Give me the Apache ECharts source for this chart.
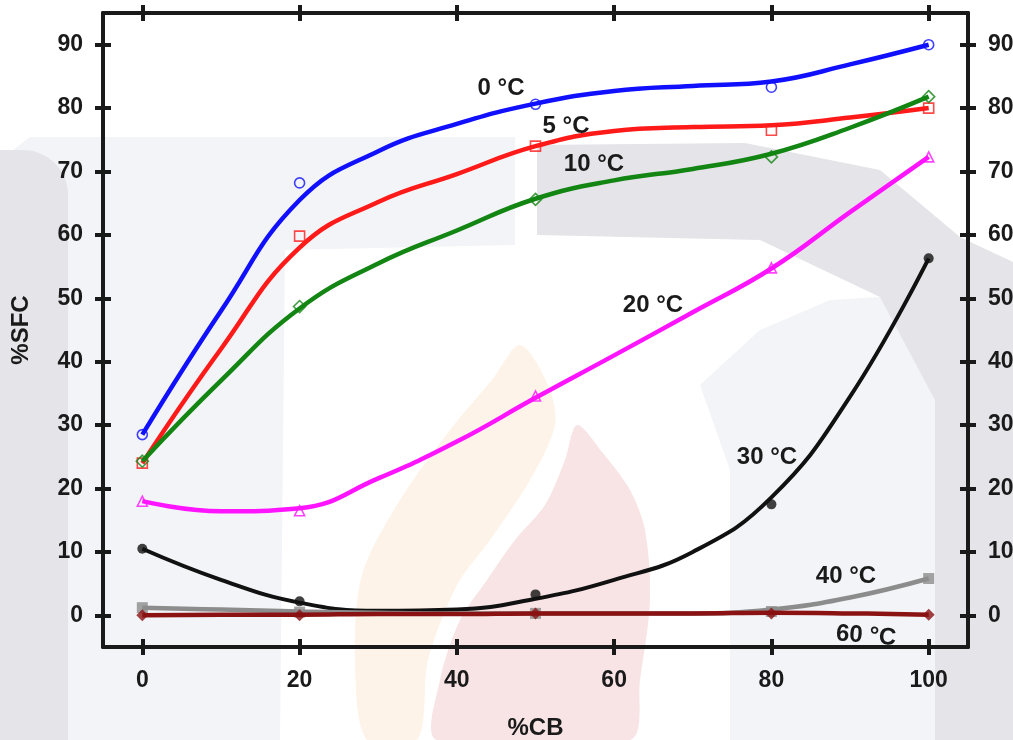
<!DOCTYPE html>
<html>
<head>
<meta charset="utf-8">
<script src="https://cdn.jsdelivr.net/npm/echarts@6/dist/echarts.min.js"></script>
<style>
  html, body { margin: 0; padding: 0; background: #ffffff; }
  #chart { width: 1013px; height: 740px; }
</style>
</head>
<body>
<div id="chart"></div>
<script>
// Cocoa butter content (%CB) at which solid fat content was measured
const cbLevels = [0, 20, 50, 80, 100];
// Measured %SFC at each temperature
const sfc0 = [28.5, 68.2, 80.6, 83.3, 90.0];
const sfc5 = [24.0, 59.8, 74.0, 76.5, 80.0];
const sfc10 = [24.3, 48.7, 65.6, 72.3, 81.8];
const sfc20 = [18.0, 16.5, 34.6, 54.8, 72.3];
const sfc30 = [10.5, 2.2, 3.3, 17.5, 56.3];
const sfc40 = [1.2, 0.5, 0.3, 0.6, 5.8];
const sfc60 = [0.0, 0.0, 0.3, 0.3, 0.1];

// Fitted trend curves, sampled every 10 %CB
const curveCb = [0, 10, 20, 30, 40, 50, 60, 70, 80, 90, 100];
const fit0 = [28.5, 48.0, 65.5, 73.2, 77.5, 80.7, 82.7, 83.5, 84.2, 86.9, 90.0];
const fit5 = [24.0, 42.0, 58.0, 65.2, 69.6, 74.0, 76.4, 77.0, 77.3, 78.5, 80.0];
const fit10 = [24.3, 37.0, 48.4, 55.5, 60.7, 65.7, 68.6, 70.4, 72.8, 76.9, 81.8];
const fit20 = [18.0, 16.4, 16.9, 21.6, 27.4, 34.3, 41.0, 47.8, 54.7, 63.6, 72.3];
const fit30 = [10.5, 5.6, 2.0, 0.7, 0.9, 2.6, 5.6, 10.0, 18.6, 34.5, 56.3];
const fit40 = [1.2, 0.9, 0.6, 0.4, 0.3, 0.3, 0.3, 0.3, 0.9, 2.8, 5.8];
const fit60 = [0.0, 0.1, 0.1, 0.2, 0.2, 0.3, 0.3, 0.3, 0.4, 0.3, 0.1];

// Axis tick labels
const xTicks = [0, 20, 40, 60, 80, 100];
const yTicks = [0, 10, 20, 30, 40, 50, 60, 70, 80, 90];

const curveLabels = ['0 °C', '5 °C', '10 °C', '20 °C', '30 °C', '40 °C', '60 °C'];

const INK = '#1a1a1a';
const FONT = '"Liberation Sans", Arial, sans-serif';

const pairs = (xs, ys) => xs.map((x, i) => [x, ys[i]]);

const groups = [
  { name: curveLabels[0], pts: sfc0, fit: fit0, color: '#1010ff', symbol: 'circle', size: 10, hollow: true, width: 4.5 },
  { name: curveLabels[1], pts: sfc5, fit: fit5, color: '#ff1a1a', symbol: 'rect', size: 10, hollow: true, width: 4.5 },
  { name: curveLabels[2], pts: sfc10, fit: fit10, color: '#138513', symbol: 'diamond', size: 12, hollow: true, width: 4.5 },
  { name: curveLabels[3], pts: sfc20, fit: fit20, color: '#ff14ff', symbol: 'triangle', size: 10, hollow: true, width: 4.5 },
  { name: curveLabels[4], pts: sfc30, fit: fit30, color: '#111111', symbol: 'circle', size: 10, hollow: false, width: 4 },
  { name: curveLabels[5], pts: sfc40, fit: fit40, color: '#8c8c8c', symbol: 'rect', size: 11, hollow: false, width: 4.5 },
  { name: curveLabels[6], pts: sfc60, fit: fit60, color: '#8a1212', symbol: 'diamond', size: 12, hollow: false, width: 4.5 }
];

const series = [];
groups.forEach((g, i) => {
  series.push({
    type: 'line',
    name: g.name + ' fit',
    data: pairs(curveCb, g.fit),
    smooth: 0.45,
    showSymbol: false,
    lineStyle: { color: g.color, width: g.width },
    z: 2 + i,
    silent: true
  });
  series.push({
    type: 'scatter',
    name: g.name,
    data: pairs(cbLevels, g.pts),
    symbol: g.symbol,
    symbolSize: g.size,
    itemStyle: g.hollow
      ? { color: 'rgba(255,255,255,0)', borderColor: g.color, borderWidth: 1.6 }
      : { color: g.color },
    z: 2 + i,
    silent: true
  });
});

// Each side of the frame gets an outward and an inward tick set so the ticks cross it
const xBase = { type: 'value', min: -5, max: 105, splitLine: { show: false } };
const yBase = { type: 'value', min: -5, max: 95, splitLine: { show: false } };
const lineOn = { show: true, onZero: false, lineStyle: { color: INK, width: 4 } };
const lineOff = { show: false, onZero: false };
const tickStyle = { color: INK, width: 4 };
const labelStyle = { fontFamily: FONT, fontWeight: 'bold', fontSize: 23, color: INK };

const xAxis = [
  Object.assign({}, xBase, {
    position: 'bottom',
    name: '%CB', nameLocation: 'middle', nameGap: 69,
    nameTextStyle: { fontFamily: FONT, fontWeight: 'bold', fontSize: 24, color: INK },
    axisLine: lineOn,
    axisTick: { show: true, inside: false, length: 8, lineStyle: tickStyle, customValues: xTicks },
    axisLabel: Object.assign({ margin: 22, customValues: xTicks }, labelStyle)
  }),
  Object.assign({}, xBase, {
    position: 'bottom',
    axisLine: lineOff,
    axisTick: { show: true, inside: true, length: 8, lineStyle: tickStyle, customValues: xTicks },
    axisLabel: { show: false }
  }),
  Object.assign({}, xBase, {
    position: 'top',
    axisLine: lineOn,
    axisTick: { show: true, inside: false, length: 8, lineStyle: tickStyle, customValues: xTicks },
    axisLabel: { show: false }
  }),
  Object.assign({}, xBase, {
    position: 'top',
    axisLine: lineOff,
    axisTick: { show: true, inside: true, length: 8, lineStyle: tickStyle, customValues: xTicks },
    axisLabel: { show: false }
  })
];

const yAxis = [
  Object.assign({}, yBase, {
    position: 'left',
    name: '%SFC', nameLocation: 'middle', nameGap: 70, nameRotate: 90,
    nameTextStyle: { fontFamily: FONT, fontWeight: 'bold', fontSize: 24, color: INK },
    axisLine: lineOn,
    axisTick: { show: true, inside: false, length: 8, lineStyle: tickStyle, customValues: yTicks },
    axisLabel: Object.assign({ margin: 20, customValues: yTicks }, labelStyle)
  }),
  Object.assign({}, yBase, {
    position: 'left',
    axisLine: lineOff,
    axisTick: { show: true, inside: true, length: 8, lineStyle: tickStyle, customValues: yTicks },
    axisLabel: { show: false }
  }),
  Object.assign({}, yBase, {
    position: 'right',
    axisLine: lineOn,
    axisTick: { show: true, inside: false, length: 8, lineStyle: tickStyle, customValues: yTicks },
    axisLabel: Object.assign({ margin: 20, customValues: yTicks }, labelStyle)
  }),
  Object.assign({}, yBase, {
    position: 'right',
    axisLine: lineOff,
    axisTick: { show: true, inside: true, length: 8, lineStyle: tickStyle, customValues: yTicks },
    axisLabel: { show: false }
  })
];

// Faint page emblem behind the chart
const emblem = [
  { type: 'polygon', z: -20, shape: { points: [[30,137],[515,137],[515,245],[285,250],[280,740],[0,740],[0,160]] }, style: { fill: '#f3f4f7' } },
  { type: 'rect', z: -19, shape: { x: 0, y: 150, width: 68, height: 590, r: [0, 45, 0, 0] }, style: { fill: '#e4e4e9' } },
  { type: 'polygon', z: -20, shape: { points: [[880,297],[935,337],[935,740],[730,740],[730,470],[700,385],[760,330],[830,300]] }, style: { fill: '#f3f4f7' } },
  { type: 'polygon', z: -19, shape: { points: [[537,145],[745,143],[880,170],[960,237],[1013,262],[1013,740],[935,740],[935,400],[880,297],[760,240],[537,235]] }, style: { fill: '#e4e4e9' } },
  { type: 'polygon', z: -18, shape: { smooth: 0.3, points: [[520,345],[548,385],[555,425],[530,480],[490,540],[457,585],[428,660],[417,740],[367,740],[355,660],[362,575],[400,500],[450,430],[492,380]] }, style: { fill: '#fdf3e9' } },
  { type: 'polygon', z: -18, shape: { smooth: 0.3, points: [[577,425],[602,452],[630,490],[645,530],[650,600],[640,680],[630,740],[437,740],[440,680],[460,620],[487,580],[515,540],[545,505],[565,460]] }, style: { fill: '#f8e4e5' } }
];

const annotFont = 'bold 24px ' + FONT;
const annot = (text, x, y, rot) => ({
  type: 'text', z: 50, x: x, y: y, rotation: rot || 0,
  style: { text: text, fill: INK, font: annotFont, align: 'center', verticalAlign: 'middle', textAlign: 'center', textVerticalAlign: 'middle' }
});
const annotations = [
  annot(curveLabels[0], 501, 88),
  annot(curveLabels[1], 566, 126),
  annot(curveLabels[2], 594, 164),
  annot(curveLabels[3], 653, 305),
  annot(curveLabels[4], 767, 457),
  annot(curveLabels[5], 846, 576),
  annot(curveLabels[6], 866, 636, -0.08)
];

const chart = echarts.init(document.getElementById('chart'), null, { renderer: 'canvas' });
chart.setOption({
  animation: false,
  backgroundColor: '#ffffff',
  grid: { left: 103, right: 45, top: 13, bottom: 93, containLabel: false, outerBoundsMode: 'none' },
  xAxis: xAxis,
  yAxis: yAxis,
  series: series,
  graphic: { elements: emblem.concat(annotations) }
});
</script>
</body>
</html>
